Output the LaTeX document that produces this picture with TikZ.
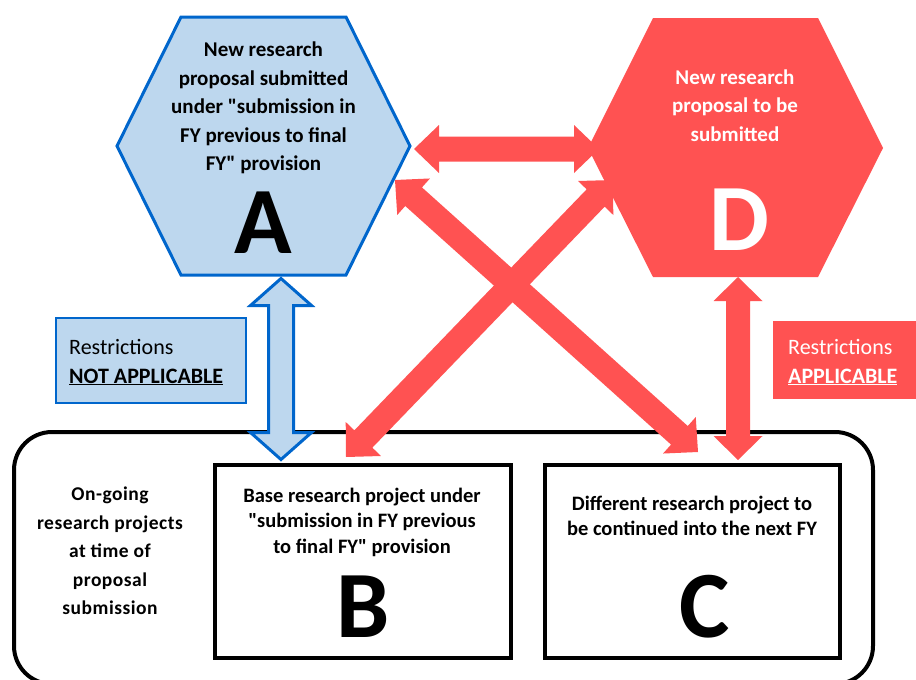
\documentclass[tikz,border=0pt]{standalone}
\usepackage{fontspec}
\setmainfont{Carlito}
\newfontfamily\carl{Carlito}
\newfontfamily\carlsp{Carlito}[LetterSpace=2.5]
\usetikzlibrary{calc}
\definecolor{hexblue}{RGB}{0,102,204}
\definecolor{lightblue}{RGB}{189,215,238}
\definecolor{hexred}{RGB}{255,82,82}
% double arrow polygon: #1 style, #2 from, #3 to, #4 shaft half, #5 head half, #6 head length
\newcommand\dblarrow[6]{%
  \path[#1] (#2)
    -- ($(#2)!#6!(#3)!#5!90:(#3)$) -- ($(#2)!#6!(#3)!#4!90:(#3)$)
    -- ($(#3)!#6!(#2)!#4!-90:(#2)$) -- ($(#3)!#6!(#2)!#5!-90:(#2)$)
    -- (#3)
    -- ($(#3)!#6!(#2)!#5!90:(#2)$) -- ($(#3)!#6!(#2)!#4!90:(#2)$)
    -- ($(#2)!#6!(#3)!#4!-90:(#3)$) -- ($(#2)!#6!(#3)!#5!-90:(#3)$)
    -- cycle;}
\tikzset{
  hexA/.style={fill=lightblue, draw=hexblue, line width=3pt, line join=miter},
  hexD/.style={fill=hexred},
  redarrow/.style={fill=hexred},
  bluearrow/.style={fill=lightblue, draw=hexblue, line width=3pt, line join=miter},
  projbox/.style={draw=black, line width=4pt, inner sep=0, fill=white},
  hextext/.style={align=center, inner sep=0, font=\carl\fontsize{21}{28.5}\selectfont\bfseries},
  boxtext/.style={align=center, inner sep=0, font=\carl\fontsize{20.5}{25.5}\selectfont\bfseries},
  sidetext/.style={align=center, inner sep=0, font=\carlsp\fontsize{19.5}{28.5}\selectfont\bfseries},
  restext/.style={align=left, inner sep=0, anchor=west, font=\carl\fontsize{22}{29}\selectfont},
  bigletter/.style={anchor=base, inner sep=0, font=\carl\fontsize{95}{95}\selectfont\bfseries}
}
\begin{document}
\begin{tikzpicture}[x=1pt,y=-1pt]
\useasboundingbox (0,0) rectangle (916,680);
\clip (0,0) rectangle (916,680);
\fill[white] (0,0) rectangle (916,680);

% outer rounded frame
\draw[black, line width=4pt, rounded corners=38pt] (14,432) rectangle (873,684);

% project boxes
\node[projbox, minimum width=296pt, minimum height=193pt] (B) at (362.5,561) {};
\node[projbox, minimum width=294.4pt, minimum height=192.2pt] (C) at (692.5,561.4) {};

% hexagon A
\path[hexA] (181,17) -- (346,17) -- (410,146) -- (346,275) -- (181,275) -- (117,146) -- cycle;

% arrow end points
\coordinate (ab1) at (281,278.5);
\coordinate (ab2) at (281,459.5);
\coordinate (ad1) at (414,149);
\coordinate (ad2) at (599,149);
\coordinate (ac1) at (395,180);
\coordinate (ac2) at (698,452);
\coordinate (bd1) at (346,457);
\coordinate (bd2) at (613,180);
\coordinate (dc1) at (738,277);
\coordinate (dc2) at (738,460);

% arrows
\dblarrow{bluearrow}{ab1}{ab2}{12.5pt}{30.5pt}{27pt}
\dblarrow{redarrow}{ad1}{ad2}{12.5pt}{24pt}{25pt}
\dblarrow{redarrow}{ac1}{ac2}{12.5pt}{24.5pt}{25pt}
\dblarrow{redarrow}{bd1}{bd2}{12.5pt}{24.5pt}{25pt}
\dblarrow{redarrow}{dc1}{dc2}{12pt}{24.5pt}{24pt}

% hexagon D
\path[hexD] (653,18) -- (818,18) -- (883,148) -- (818,277) -- (653,277) -- (588,148) -- cycle;

% hexagon texts
\node[hextext] (Atext) at (263.5,108) {New research\\proposal submitted\\under "submission in\\FY previous to final\\FY" provision};
\node[bigletter] (Aletter) at (263.5,253) {A};
\node[hextext, text=white] (Dtext) at (735,105.5) {New research\\proposal to be\\submitted};
\node[bigletter, text=white] (Dletter) at (739,250) {D};

% box texts
\node[boxtext] (Btext) at (362,522) {Base research project under\\"submission in FY previous\\to final FY" provision};
\node[bigletter] (Bletter) at (363,637) {B};
\node[boxtext] (Ctext) at (692,516) {Different research project to\\be continued into the next FY};
\node[bigletter] (Cletter) at (705,637) {C};
\node[sidetext] (side) at (110,551) {On-going\\research projects\\at time of\\proposal\\submission};

% restriction boxes
\path[fill=lightblue, draw=hexblue, line width=2.5pt] (56,318) rectangle (246,403);
\node[restext] (resA) at (69,362) {Restrictions\\\textbf{\underline{NOT APPLICABLE}}};
\path[fill=hexred] (773,321) rectangle (930,399);
\node[restext, text=white] (resD) at (788,362) {Restrictions\\\textbf{\underline{APPLICABLE}}};
\end{tikzpicture}
\end{document}
